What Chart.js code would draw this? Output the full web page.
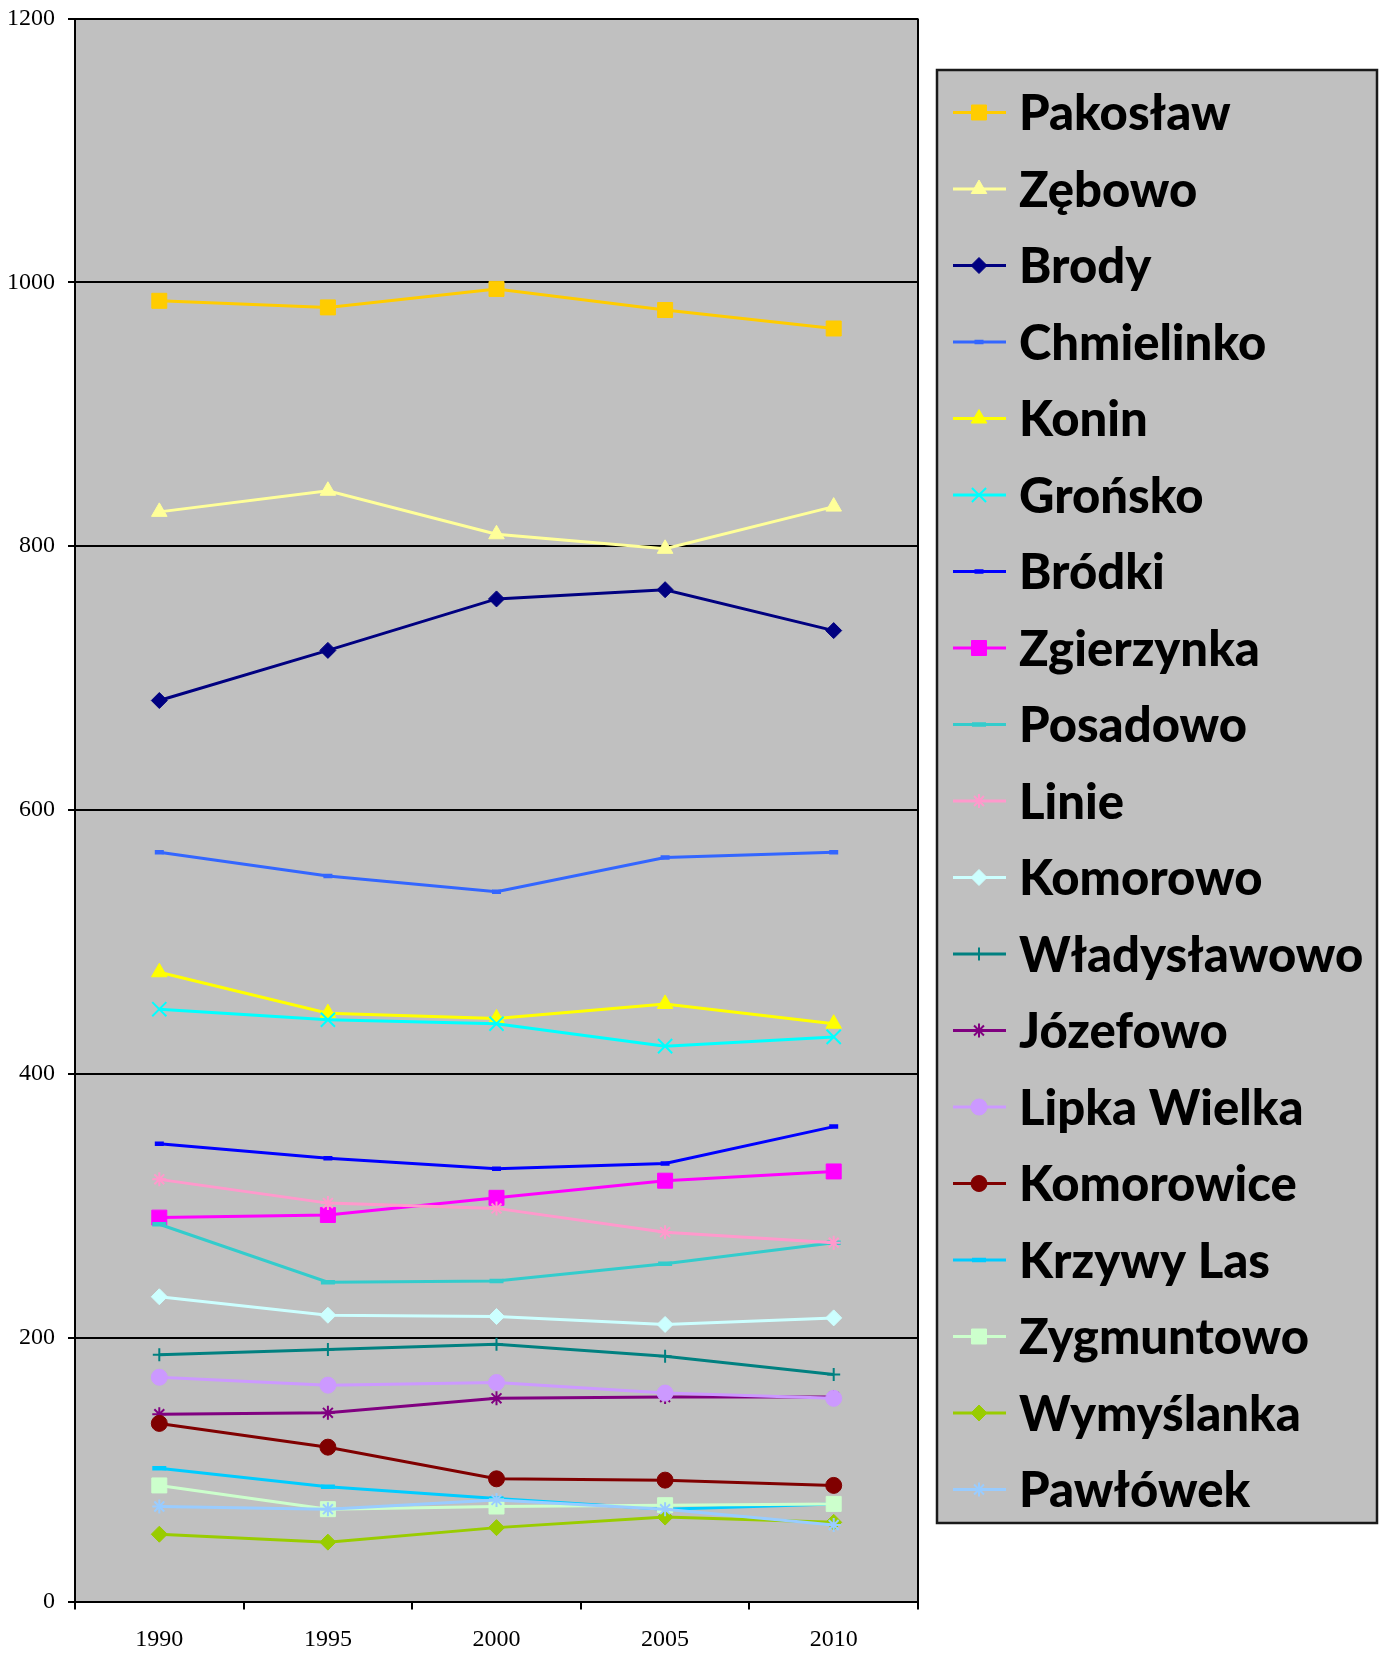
<!DOCTYPE html>
<html>
<head>
<meta charset="utf-8">
<script src="https://cdn.jsdelivr.net/npm/chart.js@4/dist/chart.umd.min.js"></script>
<style>
  html, body { margin: 0; padding: 0; background: #ffffff; }
  #wrap { width: 1387px; height: 1653px; position: relative; }
</style>
</head>
<body>
<div id="wrap"><canvas id="c" width="1387" height="1653"></canvas></div>
<script>
// ---- data ----
const years = ['1990', '1995', '2000', '2005', '2010'];
const yTicks = [0, 200, 400, 600, 800, 1000, 1200];

const pakoslaw     = [986, 981, 995, 979, 965];
const zebowo       = [826, 842, 809, 798, 830];
const brody        = [683, 721, 760, 767, 736];
const chmielinko   = [568, 550, 538, 564, 568];
const konin        = [477, 446, 442, 453, 438];
const gronsko      = [449, 441, 438, 421, 428];
const brodki       = [347, 336, 328, 332, 360];
const zgierzynka   = [291, 293, 306, 319, 326];
const posadowo     = [286, 242, 243, 256, 272];
const linie        = [320, 302, 298, 280, 272];
const komorowo     = [231, 217, 216, 210, 215];
const wladyslawowo = [187, 191, 195, 186, 172];
const jozefowo     = [142, 143, 154, 155, 155];
const lipkaWielka  = [170, 164, 166, 158, 154];
const komorowice   = [135, 117, 93, 92, 88];
const krzywyLas    = [101, 87, 78, 70, 74];
const zygmuntowo   = [88, 70, 72, 73, 74];
const wymyslanka   = [51, 45, 56, 64, 60];
const pawlowek     = [72, 70, 77, 70, 58];

const seriesNames = ['Pakosław', 'Zębowo', 'Brody', 'Chmielinko', 'Konin', 'Grońsko', 'Bródki',
  'Zgierzynka', 'Posadowo', 'Linie', 'Komorowo', 'Władysławowo', 'Józefowo', 'Lipka Wielka',
  'Komorowice', 'Krzywy Las', 'Zygmuntowo', 'Wymyślanka', 'Pawłówek'];
const seriesValues = [pakoslaw, zebowo, brody, chmielinko, konin, gronsko, brodki, zgierzynka,
  posadowo, linie, komorowo, wladyslawowo, jozefowo, lipkaWielka, komorowice, krzywyLas,
  zygmuntowo, wymyslanka, pawlowek];

// ---- styles ----
const seriesColors = ['#FFCC00', '#FFFF99', '#000080', '#3366FF', '#FFFF00', '#00FFFF', '#0000FF',
  '#FF00FF', '#33CCCC', '#FF99CC', '#CCFFFF', '#008080', '#800080', '#CC99FF', '#800000',
  '#00CCFF', '#CCFFCC', '#99CC00', '#99CCFF'];
const seriesMarkers = ['rect', 'triangle', 'rectRot', 'line', 'triangle', 'crossRot', 'line',
  'rect', 'line', 'star', 'rectRot', 'cross', 'star', 'circle', 'circle', 'line', 'rect',
  'rectRot', 'star'];
const seriesMarkerRadius = [10.6, 9, 8, 4.5, 9, 10, 4.5, 10.6, 7, 7, 8, 6.5, 7, 8, 8, 7, 10.6, 8, 7];
function markerBorder(s) {
  if (s === 'line') return 4.5;
  if (s === 'cross' || s === 'crossRot' || s === 'star') return 2;
  return 1;
}

const datasets = seriesNames.map((name, i) => ({
  label: name,
  data: seriesValues[i],
  borderColor: seriesColors[i],
  backgroundColor: seriesColors[i],
  pointBackgroundColor: seriesColors[i],
  pointBorderColor: seriesColors[i],
  pointStyle: seriesMarkers[i],
  pointRadius: seriesMarkerRadius[i],
  pointBorderWidth: markerBorder(seriesMarkers[i]),
  borderWidth: 3,
  tension: 0,
  fill: false,
  order: seriesNames.length - i
}));

const plotBg = {
  id: 'plotBg',
  beforeDraw(chart) {
    const { ctx, chartArea: a } = chart;
    ctx.save();
    ctx.fillStyle = '#C0C0C0';
    ctx.fillRect(a.left, a.top, a.right - a.left, a.bottom - a.top);
    ctx.restore();
  },
  afterDatasetsDraw(chart) {
    const { ctx, chartArea: a } = chart;
    ctx.save();
    ctx.strokeStyle = '#000000';
    ctx.lineWidth = 2;
    ctx.beginPath();
    ctx.moveTo(a.right, a.top);
    ctx.lineTo(a.right, a.bottom);
    ctx.stroke();
    ctx.restore();
  }
};

const customLegend = {
  id: 'customLegend',
  afterDraw(chart) {
    const ctx = chart.ctx;
    const box = { x: 937, y: 70, w: 440, h: 1453 };
    ctx.save();
    ctx.fillStyle = '#C0C0C0';
    ctx.fillRect(box.x, box.y, box.w, box.h);
    ctx.strokeStyle = '#1a1a1a';
    ctx.lineWidth = 2.5;
    ctx.strokeRect(box.x, box.y, box.w, box.h);
    const y0 = 112.5, step = 76.5;
    chart.data.datasets.forEach((ds, i) => {
      const y = y0 + i * step;
      ctx.strokeStyle = ds.borderColor;
      ctx.lineWidth = 3;
      ctx.beginPath();
      ctx.moveTo(953, y);
      ctx.lineTo(1006, y);
      ctx.stroke();
      ctx.fillStyle = ds.pointBackgroundColor;
      ctx.strokeStyle = ds.pointBorderColor;
      ctx.lineWidth = ds.pointBorderWidth;
      Chart.helpers.drawPoint(ctx, {
        pointStyle: ds.pointStyle,
        radius: ds.pointRadius,
        borderWidth: ds.pointBorderWidth,
        rotation: 0
      }, 979, y);
      ctx.fillStyle = '#000000';
      ctx.font = '900 49px Lato, "Open Sans", sans-serif';
      ctx.textAlign = 'left';
      ctx.textBaseline = 'alphabetic';
      ctx.fillText(ds.label, 1019, y + 17.5);
    });
    ctx.restore();
  }
};

new Chart(document.getElementById('c'), {
  type: 'line',
  data: { labels: years, datasets: datasets },
  options: {
    responsive: false,
    animation: false,
    events: [],
    layout: { padding: { left: 0, top: 18.5, right: 469, bottom: 0 } },
    plugins: { legend: { display: false }, tooltip: { enabled: false } },
    scales: {
      x: {
        type: 'category',
        offset: true,
        grid: {
          offset: true,
          drawOnChartArea: false,
          drawTicks: true,
          tickLength: 8,
          color: '#000000',
          lineWidth: 2
        },
        border: { display: true, color: '#000000', width: 2 },
        ticks: {
          color: '#000000',
          padding: 16,
          maxRotation: 0,
          font: { family: '"Liberation Serif", "Times New Roman", serif', size: 24 }
        },
        afterFit(scale) { scale.height = 51.5; scale.paddingLeft = 0; scale.paddingRight = 0; }
      },
      y: {
        min: 0,
        max: 1200,
        afterBuildTicks(scale) { scale.ticks = yTicks.map(v => ({ value: v })); },
        grid: {
          drawOnChartArea: true,
          drawTicks: true,
          tickLength: 7,
          color: '#000000',
          lineWidth: 2
        },
        border: { display: true, color: '#000000', width: 2 },
        ticks: {
          color: '#000000',
          padding: 13,
          font: { family: '"Liberation Serif", "Times New Roman", serif', size: 24 },
          callback: (v) => String(v)
        },
        afterFit(scale) { scale.width = 75; scale.paddingTop = 0; scale.paddingBottom = 0; }
      }
    }
  },
  plugins: [plotBg, customLegend]
});
</script>
</body>
</html>
